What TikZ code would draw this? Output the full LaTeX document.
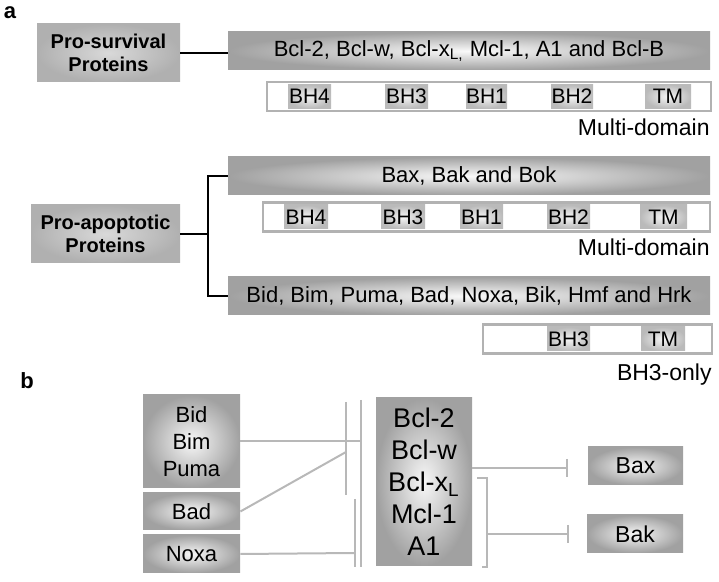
\documentclass[tikz,border=0pt]{standalone}
\usepackage{fontspec}
\setmainfont{Liberation Sans}
\usetikzlibrary{arrows.meta}

\tikzset{
  bar/.style={rectangle,inner color=black!2,outer color=black!37,inner sep=0pt,
              minimum width=241pt,minimum height=19pt,font=\fontsize{11}{13}\selectfont},
  group/.style={rectangle,inner color=black!15,outer color=black!31,inner sep=0pt,
                align=center,font=\bfseries\fontsize{10}{11.5}\selectfont},
  domrow/.style={rectangle,draw=black!30,line width=1.3pt,fill=white,inner sep=0pt,
                 minimum height=14.5pt},
  dom/.style={rectangle,inner color=black!4,outer color=black!27,inner sep=0pt,
              minimum height=12pt,font=\fontsize{10.5}{11}\selectfont},
  kind/.style={anchor=east,inner sep=0pt,font=\fontsize{11.5}{13}\selectfont},
  panel/.style={inner sep=0pt,font=\bfseries\fontsize{11}{13}\selectfont},
  prot/.style={rectangle,inner color=black!3,outer color=black!37,inner sep=0pt,
               minimum width=48.5pt,align=center,font=\fontsize{11}{13.5}\selectfont},
  link/.style={black,line width=1pt},
  inhib/.style={draw=black!28,line width=1pt}
}

\begin{document}
\begin{tikzpicture}[x=0.5pt,y=-0.5pt]
  \useasboundingbox (0,0) rectangle (719,582);

  %% panel a
  \node[panel] (lbla) at (10,13) {a};

  %% Pro-survival
  \node[group,minimum width=71.5pt,minimum height=29pt] (surv) at (108.5,53)
        {Pro-survival\\Proteins};
  \node[bar] (antiap) at (469,51)
        {Bcl-2, Bcl-w, Bcl-x\textsubscript{L,} Mcl-1, A1 and Bcl-B};
  \draw[link] (surv.east) -- (surv.east -| antiap.west);

  \node[domrow,minimum width=222pt] (row1) at (489,96.5) {};
  \node[dom,minimum width=21.5pt] (r1bh4) at (309.5,96.5) {BH4};
  \node[dom,minimum width=21.5pt] (r1bh3) at (406.5,96.5) {BH3};
  \node[dom,minimum width=20.5pt] (r1bh1) at (486.5,96.5) {BH1};
  \node[dom,minimum width=21pt]   (r1bh2) at (572,96.5) {BH2};
  \node[dom,minimum width=23pt]   (r1tm)  at (668,96.5) {TM};
  \node[kind] (multi1) at (710,127) {Multi-domain};

  %% Pro-apoptotic
  \node[group,minimum width=74.5pt,minimum height=29pt] (apop) at (105.5,234)
        {Pro-apoptotic\\Proteins};
  \node[bar] (effect) at (469,176) {Bax, Bak and Bok};
  \node[bar] (bhonly) at (469,296)
        {Bid, Bim, Puma, Bad, Noxa, Bik, Hmf and Hrk};
  \coordinate (fork) at (208,234);
  \draw[link] (apop.east) -- (fork);
  \draw[link] (effect.west) -| (fork) |- (bhonly.west);

  \node[domrow,minimum width=223.5pt] (row2) at (486.5,217) {};
  \node[dom,minimum width=22pt]   (r2bh4) at (306,217) {BH4};
  \node[dom,minimum width=22pt]   (r2bh3) at (403,217) {BH3};
  \node[dom,minimum width=21.5pt] (r2bh1) at (481.5,217) {BH1};
  \node[dom,minimum width=21.5pt] (r2bh2) at (568.5,217) {BH2};
  \node[dom,minimum width=23.5pt] (r2tm)  at (663.5,217) {TM};
  \node[kind] (multi2) at (710,247) {Multi-domain};

  \node[domrow,minimum width=114.5pt] (row3) at (597.5,339) {};
  \node[dom,minimum width=21.5pt] (r3bh3) at (568.5,339) {BH3};
  \node[dom,minimum width=22pt]   (r3tm)  at (663,339) {TM};
  \node[kind] (only) at (712,375) {BH3-only};

  %% panel b
  \node[panel] (lblb) at (27,381) {b};

  \node[prot,minimum height=46.5pt] (bid)  at (191.5,441.5) {Bid\\Bim\\Puma};
  \node[prot,minimum height=18.5pt] (bad)  at (191.5,511.5) {Bad};
  \node[prot,minimum height=19pt]   (noxa) at (191.5,554) {Noxa};
  \node[prot,minimum width=48pt,minimum height=84pt,
        font=\fontsize{13.5}{16}\selectfont] (bcl) at (424,482)
        {Bcl-2\\Bcl-w\\Bcl-x\textsubscript{L}\\Mcl-1\\A1};
  \node[prot,minimum width=47.5pt,minimum height=19pt,
        font=\fontsize{11.5}{13}\selectfont] (bax) at (635.5,466) {Bax};
  \node[prot,minimum width=48pt,minimum height=19pt,
        font=\fontsize{11.5}{13}\selectfont] (bak) at (635,534) {Bak};

  %% blocking bars
  \coordinate (barA) at (346,402);
  \coordinate (barB) at (361,400);
  \coordinate (barC) at (355,499);
  \draw[inhib] (barA) -- ++(0,93);
  \draw[inhib] (barB) -- ++(0,167);
  \draw[inhib] (barC) -- ++(0,68);
  \draw[inhib] (bid.east) -- (bid.east -| barB);
  \draw[inhib] (bad.east) -- (barA |- 0,452);
  \draw[inhib] (noxa.east) -- (barC |- 0,553);

  \coordinate (brace) at (487,478);
  \draw[inhib] ([xshift=-5]brace) -- (brace) -- ++(0,89) -- ++(-5,0);
  \draw[inhib,-{Bar[width=9pt]}] (bcl.east |- 0,468) -- ([xshift=-10]bax.west |- 0,468);
  \draw[inhib,-{Bar[width=9pt]}] (brace |- 0,534) -- ([xshift=-9]bak.west);
\end{tikzpicture}
\end{document}
